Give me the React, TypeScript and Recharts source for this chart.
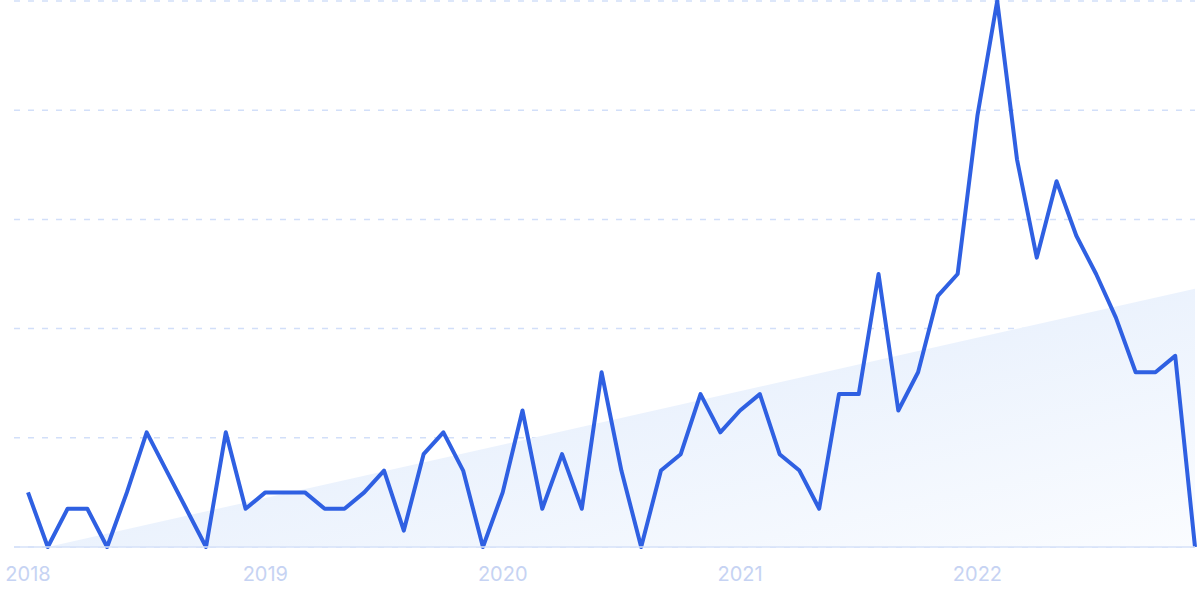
import React from 'react';
import { ComposedChart, Line, Area, XAxis, YAxis, CartesianGrid } from 'recharts';

const years = ['2018', '2019', '2020', '2021', '2022'];
const monthNums = ['01', '02', '03', '04', '05', '06', '07', '08', '09', '10', '11', '12'];

const values2018 = [10, 0, 7, 7, 0, 10, 21, 14, 7, 0, 21, 7];
const values2019 = [10, 10, 10, 7, 7, 10, 14, 3, 17, 21, 14, 0];
const values2020 = [10, 25, 7, 17, 7, 32, 14, 0, 14, 17, 28, 21];
const values2021 = [25, 28, 17, 14, 7, 28, 28, 50, 25, 32, 46, 50];
const values2022 = [79, 100, 71, 53, 67, 57, 50, 42, 32, 32, 35, 0];

// trend line endpoints (second and last month), rest left empty
const trendStart = 0;
const trendEnd = 47.3;

const yTicks = [0, 20, 40, 60, 80, 100];

const allValues = [...values2018, ...values2019, ...values2020, ...values2021, ...values2022];
const categories: string[] = [];
years.forEach((y) => monthNums.forEach((m) => categories.push(`${y}-${m}`)));

const data = categories.map((c, i) => ({
  month: c,
  value: allValues[i],
  trend: i === 1 ? trendStart : i === categories.length - 1 ? trendEnd : null,
}));

const xTicks = years.map((y) => `${y}-01`);

export default function App() {
  return (
    <div style={{ position: 'absolute', left: 0, top: 0, width: 1200, height: 599, background: '#fff' }}>
      <ComposedChart
        width={1200}
        height={599}
        data={data}
        margin={{ top: 1, right: 5, left: 14, bottom: 0 }}
      >
        <defs>
          <linearGradient id="trendFill" x1="0" y1="0" x2="1" y2="1">
            <stop offset="0%" stopColor="#dde9fb" />
            <stop offset="100%" stopColor="#fafcff" />
          </linearGradient>
        </defs>
        <CartesianGrid
          vertical={false}
          stroke="#d2dff9"
          strokeDasharray="6 8"
          strokeWidth={1.5}
        />
        <XAxis
          dataKey="month"
          ticks={xTicks}
          interval={0}
          tickFormatter={(v: string) => v.slice(0, 4)}
          padding={{ left: 14, right: 0 }}
          height={52}
          tickLine={false}
          tickMargin={14}
          axisLine={{ stroke: '#d6e2f8', strokeWidth: 1.5 }}
          tick={{ fill: '#c6d3f3', fontSize: 20, fontFamily: 'Inter, sans-serif' }}
        />
        <YAxis hide domain={[0, 100]} ticks={yTicks} />
        <Area
          type="linear"
          dataKey="trend"
          connectNulls
          stroke="none"
          fill="url(#trendFill)"
          fillOpacity={1}
          baseValue={0}
          isAnimationActive={false}
          dot={false}
          activeDot={false}
        />
        <Line
          type="linear"
          dataKey="value"
          stroke="#2f60e2"
          strokeWidth={4}
          strokeLinejoin="round"
          dot={false}
          activeDot={false}
          isAnimationActive={false}
        />
      </ComposedChart>
    </div>
  );
}
